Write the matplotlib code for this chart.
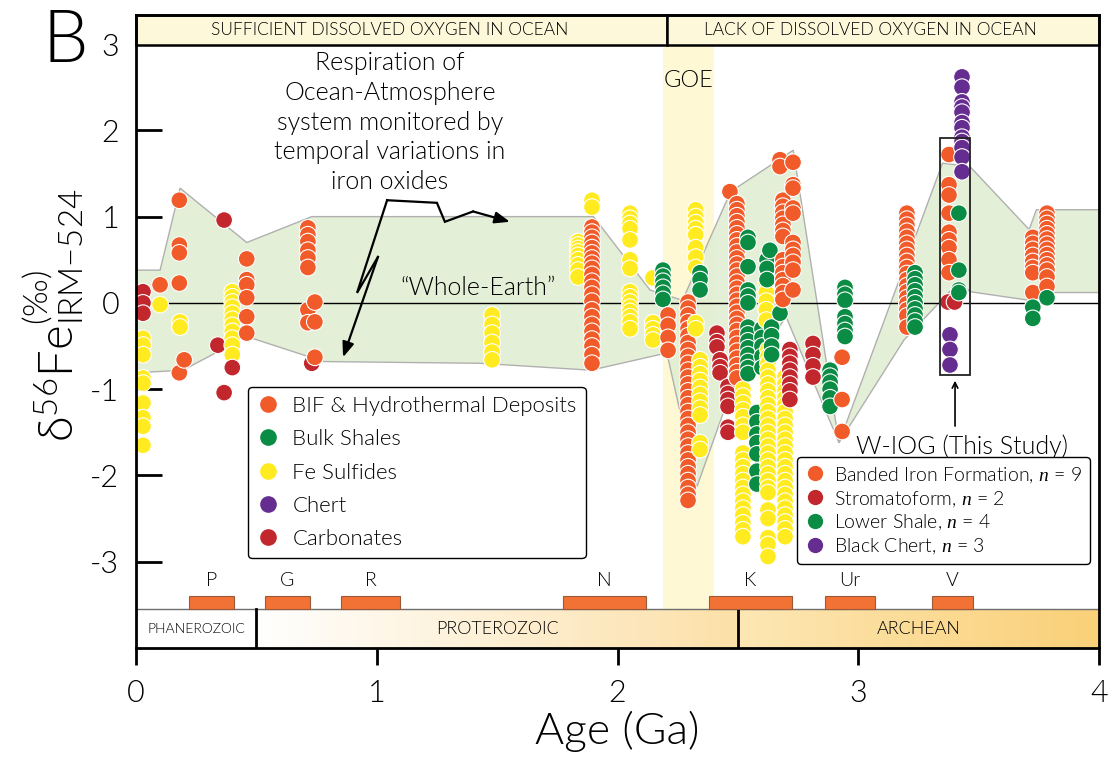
import numpy as np
import matplotlib
matplotlib.use("Agg")
import matplotlib.pyplot as plt
from matplotlib.patches import Rectangle, Polygon
from matplotlib.lines import Line2D

plt.rcParams["font.family"] = ["Lato", "DejaVu Sans"]
plt.rcParams["font.weight"] = 300
plt.rcParams["axes.labelweight"] = 300
plt.rcParams["mathtext.fontset"] = "custom"
plt.rcParams["mathtext.rm"] = "Lato"
plt.rcParams["mathtext.it"] = "Liberation Serif:italic"

# ---------------------------------------------------------------- colours
C_BIF = "#F15A29"
C_SHALE = "#0B8C44"
C_SULF = "#FFEB1F"
C_CHERT = "#662D91"
C_CARB = "#C1272D"

# ---------------------------------------------------------------- literature compilation
# each entry: (age in Ga, [d56Fe values of the stacked samples])
bif_cols = [
    (0.10, [0.21]),
    (0.18, [1.19, 0.67, 0.58, 0.23, -0.81]),
    (0.20, [-0.66]),
    (0.46, [0.51, 0.27, 0.21, 0.06, -0.16, -0.35]),
    (0.714, [0.87, 0.79, 0.71, 0.61, 0.52, 0.41, -0.08, -0.23]),
    (0.743, [0.01, -0.22, -0.63]),
    (1.894, [0.88, 0.82, 0.76, 0.70, 0.64, 0.58, 0.52, 0.46, 0.40, 0.33, 0.25,
             0.18, 0.10, 0.02, -0.08, -0.16, -0.25, -0.33, -0.42, -0.50, -0.60, -0.70]),
    (2.21, [-0.14, -0.26, -0.40, -0.55]),
    (2.293, [0.01, -0.06, -0.14, -0.22, -0.30, -0.38, -0.46, -0.54, -0.62, -0.70,
             -0.78, -0.86, -0.94, -1.02, -1.10, -1.18, -1.26, -1.34, -1.42, -1.50,
             -1.58, -1.66, -1.74, -1.82, -1.90, -1.98, -2.06, -2.14, -2.22, -2.29]),
    (2.467, [1.29]),
    (2.496, [1.15, 1.08, 1.01, 0.94, 0.87, 0.80, 0.73, 0.66, 0.59, 0.52, 0.45,
             0.38, 0.31, 0.24, 0.17, 0.10, 0.03, -0.04, -0.11, -0.18, -0.25,
             -0.32, -0.40, -0.48, -0.56, -0.64, -0.72, -0.80, -0.87]),
    (2.675, [1.66, 1.58]),
    (2.687, [1.19, 1.12, 1.05, 0.98, 0.91, 0.84, 0.77, 0.50, 0.42, 0.35, 0.27,
             0.20, 0.12, 0.04]),
    (2.729, [1.63, 1.37, 1.33, 1.10, 1.04, 0.70, 0.62, 0.55, 0.47, 0.38, 0.15]),
    (2.933, [-0.63, -1.12, -1.49]),
    (3.202, [1.04, 0.97, 0.90, 0.83, 0.76, 0.69, 0.62, 0.55, 0.48, 0.41, 0.34,
             0.27, 0.20, 0.13, 0.06, -0.01, -0.08, -0.15, -0.28]),
    (3.725, [0.76, 0.69, 0.62, 0.55, 0.48, 0.41, 0.35, 0.12]),
    (3.784, [1.04, 0.98, 0.92, 0.86, 0.80, 0.74, 0.68, 0.62, 0.56, 0.50, 0.44,
             0.38, 0.30, 0.19]),
]

shale_cols = [
    (2.189, [0.38, 0.31, 0.25, 0.18, 0.11, 0.04]),
    (2.343, [0.35, 0.27, 0.15]),
    (2.542, [0.76, 0.70, 0.42, 0.15, 0.08, 0.00, -0.28, -0.36, -0.44, -0.52,
             -0.60, -0.68, -0.75, -0.82]),
    (2.579, [-1.27, -1.38, -1.52, -1.62, -1.75, -1.95, -2.10]),
    (2.600, [-0.30, -0.40, -0.50, -0.62, -0.75]),
    (2.621, [0.50, 0.40, 0.27]),
    (2.633, [0.61]),
    (2.640, [-0.28, -0.38, -0.50, -0.60]),
    (2.675, [-0.12]),
    (2.883, [-0.78, -0.85, -0.92, -1.00, -1.10, -1.20]),
    (2.945, [0.18, 0.10, 0.03, -0.16, -0.24, -0.32, -0.39]),
    (3.236, [0.35, 0.28, 0.21, 0.14, 0.07, 0.00, -0.07, -0.14, -0.21, -0.28]),
    (3.725, [-0.05, -0.18]),
    (3.784, [0.06]),
]

sulfide_cols = [
    (0.029, [-0.41, -0.49, -0.60, -0.87, -0.93, -1.16, -1.33, -1.43, -1.65]),
    (0.10, [-0.02]),
    (0.183, [-0.22, -0.28]),
    (0.40, [0.13, 0.07, 0.01, -0.05, -0.12, -0.19, -0.26, -0.33, -0.41, -0.49, -0.60]),
    (1.479, [-0.14, -0.25, -0.35, -0.46, -0.57, -0.66]),
    (1.836, [0.71, 0.67, 0.63, 0.59, 0.55, 0.50, 0.44, 0.38, 0.30]),
    (1.894, [1.19, 1.11]),
    (2.052, [1.04, 0.98, 0.92, 0.86, 0.73, 0.50, 0.40, 0.13, 0.07, 0.01, -0.05,
             -0.10, -0.16, -0.22, -0.30]),
    (2.147, [0.29, -0.23, -0.30, -0.37, -0.43]),
    (2.325, [1.08, 1.00, 0.93, 0.86, 0.79, 0.64, 0.53, 0.41, -0.23, -0.30]),
    (2.343, [-0.66, -0.74, -0.82, -0.90, -0.98, -1.06, -1.14, -1.22, -1.30,
             -1.62, -1.70]),
    (2.521, [-1.00, -1.08, -1.16, -1.24, -1.32, -1.42, -1.50, -1.74, -1.82,
             -1.90, -1.98, -2.06, -2.14, -2.22, -2.30, -2.38, -2.46, -2.55,
             -2.63, -2.71]),
    (2.618, [0.23, 0.12, 0.02, -0.08, -0.20]),
    (2.625, [-0.54, -0.62, -0.70, -0.78, -0.86, -0.94, -1.02, -1.10, -1.18,
             -1.26, -1.34, -1.42, -1.50, -1.58, -1.66, -1.74, -1.82, -1.90,
             -1.98, -2.06, -2.14, -2.20, -2.40, -2.50, -2.72, -2.80, -2.94]),
    (2.696, [-0.86, -0.94, -1.02, -1.10, -1.18, -1.26, -1.34, -1.42, -1.50,
             -1.58, -1.66, -1.74, -1.82, -1.90, -1.98, -2.06, -2.14, -2.22,
             -2.30, -2.38, -2.46, -2.54, -2.62, -2.71]),
]

carbonate_cols = [
    (0.029, [0.13, 0.00, -0.12]),
    (0.34, [-0.49]),
    (0.366, [0.96, -1.04]),
    (0.40, [-0.75]),
    (0.73, [-0.70]),
    (2.413, [-0.35, -0.45, -0.51]),
    (2.426, [-0.66, -0.74, -0.81]),
    (2.459, [-0.97, -1.05, -1.12, -1.20, -1.44, -1.50]),
    (2.716, [-0.54, -0.62, -0.70, -0.78, -0.86, -0.94, -1.02, -1.12]),
    (2.812, [-0.47, -0.60, -0.73, -0.86]),
]

chert_cols = [
    (3.431, [2.62, 2.50, 2.33, 2.27, 2.21, 2.09, 2.03, 1.92, 1.87, 1.80, 1.69, 1.52]),
]

# ---------------------------------------------------------------- W-IOG (this study)
wiog_bif = (3.377, [1.72, 1.37, 1.25, 1.04, 0.82, 0.73, 0.64, 0.50, 0.35])
wiog_strom = [(3.373, 0.01), (3.400, 0.01)]
wiog_shale = (3.418, [1.04, 0.38, 0.15, 0.12])
wiog_chert = (3.381, [-0.37, -0.54, -0.72])

# ---------------------------------------------------------------- "whole-Earth" envelope
env_upper = [(0.0, 0.38), (0.10, 0.38), (0.183, 1.33), (0.46, 0.70), (0.73, 1.00),
             (1.90, 1.00), (2.135, 0.15), (2.27, 0.03), (2.47, 1.29), (2.73, 1.77),
             (2.92, -1.62), (3.35, 1.62), (3.464, 1.58), (3.71, 0.85), (3.74, 1.08),
             (4.0, 1.08)]
env_lower = [(4.0, 0.12), (3.81, 0.12), (3.71, 0.03), (3.464, 0.13), (3.42, 0.25),
             (3.19, -0.43), (2.92, -1.62), (2.70, -0.16), (2.44, -1.27),
             (2.33, -2.13), (2.205, -0.58), (1.89, -0.78), (1.43, -0.70),
             (0.78, -0.68), (0.46, -0.39), (0.195, -0.78), (0.0, -0.81)]

# ---------------------------------------------------------------- time scale
eons = ["PHANEROZOIC", "PROTEROZOIC", "ARCHEAN"]
eon_bounds = [0.0, 0.5, 2.5, 4.0]
supercontinents = ["P", "G", "R", "N", "K", "Ur", "V"]
sc_start = [0.220, 0.536, 0.852, 1.773, 2.380, 2.862, 3.306]
sc_end = [0.407, 0.723, 1.096, 2.118, 2.725, 3.070, 3.478]
goe_span = (2.19, 2.40)
ocean_split = 2.205

Y_BOT, Y_TOP = -4.0, 3.337
BANNER_Y = 2.985
EON_TOP = -3.55
SC_TOP = -3.40

fig = plt.figure(figsize=(11.1, 7.62), dpi=100)
ax = fig.add_axes([136 / 1110, 1 - 648 / 762, 963 / 1110, 633 / 762])
ax.set_xlim(0, 4)
ax.set_ylim(Y_BOT, Y_TOP)

# GOE band
ax.fill_betweenx([EON_TOP, BANNER_Y], goe_span[0], goe_span[1],
                 color="#FEF8D4", lw=0, zorder=0.5)
ax.text(np.mean(goe_span), 2.58, "GOE", ha="center", va="center",
        fontsize=17, zorder=6)

# envelope
ax.add_patch(Polygon(env_upper + env_lower, closed=True, fc="#E1EED3",
                     ec="#A9A9A9", lw=1.0, alpha=0.9, zorder=1))
ax.axhline(0, color="black", lw=1.0, zorder=2)

# scatter: draw column by column, left to right, top to bottom
pts = []
for cols, c in [(bif_cols, C_BIF), (shale_cols, C_SHALE), (sulfide_cols, C_SULF),
                (carbonate_cols, C_CARB), (chert_cols, C_CHERT)]:
    for age, vals in cols:
        for v in vals:
            pts.append((age, v, c))
for v in wiog_bif[1]:
    pts.append((wiog_bif[0], v, C_BIF))
for age, v in wiog_strom:
    pts.append((age, v, C_CARB))
for v in wiog_shale[1]:
    pts.append((wiog_shale[0], v, C_SHALE))
for v in wiog_chert[1]:
    pts.append((wiog_chert[0], v, C_CHERT))
pts.sort(key=lambda p: (p[0], -p[1]))
ax.scatter([p[0] for p in pts], [p[1] for p in pts], s=145,
           c=[p[2] for p in pts], edgecolors="white", linewidths=0.8, zorder=4)

# W-IOG box and arrow
ax.add_patch(Rectangle((3.34, -0.834), 0.124, 2.744, fill=False, ec="#222222",
                       lw=1.3, zorder=5))
ax.annotate("", xy=(3.402, -0.87), xytext=(3.402, -1.46),
            arrowprops=dict(arrowstyle="->", lw=1.2, color="black"), zorder=5)
ax.text(3.43, -1.67, "W-IOG (This Study)", ha="center", va="center",
        fontsize=18, zorder=6)

# annotation text and lightning arrows
ax.text(1.055, 2.09, "Respiration of\nOcean-Atmosphere\nsystem monitored by\n"
        "temporal variations in\niron oxides", ha="center", va="center",
        fontsize=18, linespacing=1.3, zorder=6)
ax.text(1.42, 0.17, "\u201cWhole-Earth\u201d", ha="center", va="center",
        fontsize=18, zorder=6)
bolt1 = [(1.043, 1.19), (0.918, 0.116), (1.005, 0.533)]
ax.plot(*zip(*bolt1), color="black", lw=1.6, zorder=6, solid_joinstyle="miter")
ax.annotate("", xy=(0.86, -0.63), xytext=bolt1[-1],
            arrowprops=dict(arrowstyle="-|>,head_length=0.9,head_width=0.35",
                            lw=1.6, color="black", shrinkA=0, shrinkB=0), zorder=6)
bolt2 = [(1.043, 1.19), (1.25, 1.16), (1.283, 0.94), (1.40, 1.06)]
ax.plot(*zip(*bolt2), color="black", lw=1.6, zorder=6, solid_joinstyle="miter")
ax.annotate("", xy=(1.553, 0.94), xytext=bolt2[-1],
            arrowprops=dict(arrowstyle="-|>,head_length=0.9,head_width=0.35",
                            lw=1.6, color="black", shrinkA=0, shrinkB=0), zorder=6)

# top banner
ax.add_patch(Rectangle((0, BANNER_Y), ocean_split, Y_TOP - BANNER_Y, fc="#FEF8DA",
                       ec="black", lw=1.8, zorder=7, clip_on=False))
ax.add_patch(Rectangle((ocean_split, BANNER_Y), 4 - ocean_split, Y_TOP - BANNER_Y,
                       fc="#FEF8DA", ec="black", lw=1.8, zorder=7, clip_on=False))
yb = (BANNER_Y + Y_TOP) / 2
ax.text(1.055, yb, "SUFFICIENT DISSOLVED OXYGEN IN OCEAN", ha="center",
        va="center", fontsize=12.5, zorder=8)
ax.text(3.05, yb, "LACK OF DISSOLVED OXYGEN IN OCEAN", ha="center",
        va="center", fontsize=12.5, zorder=8)

# eon bar with gradients
def grad(c0, c1, n=256):
    c0 = np.array(c0) / 255.0
    c1 = np.array(c1) / 255.0
    t = np.linspace(0, 1, n)[None, :, None]
    return c0[None, None, :] * (1 - t) + c1[None, None, :] * t

ax.add_patch(Rectangle((eon_bounds[0], Y_BOT), eon_bounds[1] - eon_bounds[0],
                       EON_TOP - Y_BOT, fc="white", ec="none", zorder=2))
ax.imshow(grad((255, 255, 255), (252, 224, 168)), aspect="auto", zorder=2,
          extent=[eon_bounds[1], eon_bounds[2], Y_BOT, EON_TOP])
ax.imshow(grad((253, 231, 180), (250, 208, 120)), aspect="auto", zorder=2,
          extent=[eon_bounds[2], eon_bounds[3], Y_BOT, EON_TOP])
ax.plot([0, 4], [EON_TOP, EON_TOP], color="#6E6E6E", lw=1.0, zorder=3)
for b in eon_bounds[1:3]:
    ax.plot([b, b], [Y_BOT, EON_TOP], color="black", lw=2.0, zorder=3)
eon_sizes = [10, 13, 13]
for name, a, b, fs in zip(eons, eon_bounds[:-1], eon_bounds[1:], eon_sizes):
    ax.text((a + b) / 2, (Y_BOT + EON_TOP) / 2, name, ha="center", va="center",
            fontsize=fs, zorder=4)

for name, a, b in zip(supercontinents, sc_start, sc_end):
    ax.add_patch(Rectangle((a, EON_TOP), b - a, SC_TOP - EON_TOP, fc="#F27235",
                           ec="#9A5A3A", lw=0.8, zorder=3))
    ax.text((a + b) / 2, -3.22, name, ha="center", va="center", fontsize=14,
            zorder=4)

ax.set_xlim(0, 4)
ax.set_ylim(Y_BOT, Y_TOP)

# axes styling
for s in ax.spines.values():
    s.set_linewidth(2.0)
    s.set_zorder(9)
ax.set_xticks([0, 1, 2, 3, 4])
ax.set_yticks([-3, -2, -1, 0, 1, 2, 3])
ax.set_yticklabels(["-3", "-2", "-1", "0", "1", "2", "3"])
ax.tick_params(axis="y", direction="in", length=19, width=2, labelsize=22, pad=12)
ax.tick_params(axis="x", direction="out", length=12, width=2, labelsize=22, pad=10)
ax.set_xlabel("Age (Ga)", fontsize=32, labelpad=2)
fig.text(54 / 1110, 1 - 315 / 762,
         "\u03b4$^{56}$Fe$^{(\u2030)}_{\\mathrm{IRM{-}524}}$",
         rotation=90, ha="center", va="center", fontsize=34)
fig.text(65 / 1110, 1 - 42 / 762, "B", ha="center", va="center", fontsize=52)

# legends
def h(c, ms):
    return Line2D([], [], marker="o", ls="", ms=ms, mfc=c, mec="none")

leg1 = ax.legend([h(C_BIF, 12), h(C_SHALE, 12), h(C_SULF, 12), h(C_CHERT, 12),
                  h(C_CARB, 12)],
                 ["BIF & Hydrothermal Deposits", "Bulk Shales", "Fe Sulfides",
                  "Chert", "Carbonates"],
                 loc="upper left", bbox_to_anchor=(0.1163, 0.4123),
                 borderaxespad=0, fontsize=16, labelspacing=0.6,
                 handlelength=1.0, handletextpad=0.6, borderpad=0.4,
                 frameon=True, fancybox=True, framealpha=1, edgecolor="black")
leg1.get_frame().set_linewidth(1.0)
leg1.set_zorder(10)
ax.add_artist(leg1)
leg2 = ax.legend([h(C_BIF, 11), h(C_CARB, 11), h(C_SHALE, 11), h(C_CHERT, 11)],
                 ["Banded Iron Formation, $n$ = 9", "Stromatoform, $n$ = 2",
                  "Lower Shale, $n$ = 4", "Black Chert, $n$ = 3"],
                 loc="upper left", bbox_to_anchor=(0.6864, 0.3017),
                 borderaxespad=0, fontsize=14, labelspacing=0.2,
                 handlelength=1.0, handletextpad=0.5, borderpad=0.4,
                 frameon=True, fancybox=True, framealpha=1, edgecolor="black")
leg2.get_frame().set_linewidth(1.0)
leg2.set_zorder(10)

fig.savefig("out.png", dpi=100)
